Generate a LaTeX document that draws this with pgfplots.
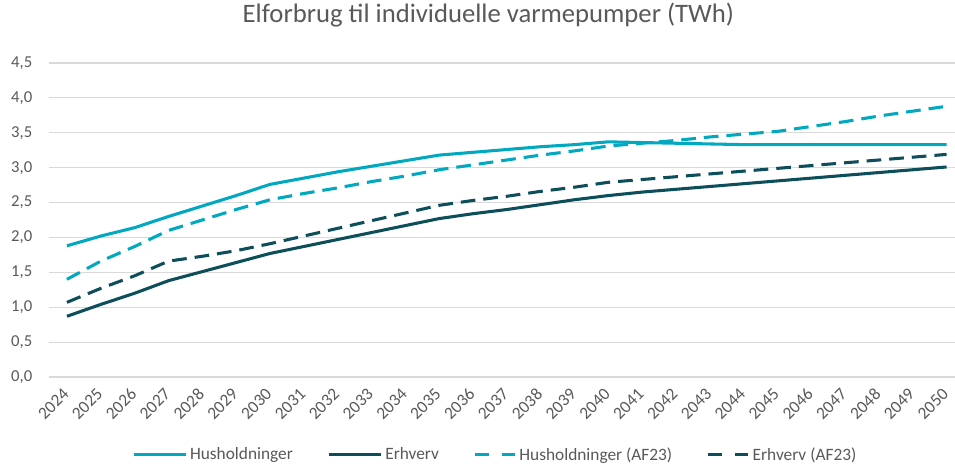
\documentclass[border=0pt]{standalone}
\usepackage{pgfplots}
\pgfplotsset{compat=1.18}
\usepackage{fontspec}
\setmainfont{Carlito}
\definecolor{husc}{HTML}{00A9BF}
\definecolor{erhc}{HTML}{0D4E5B}
\definecolor{txtc}{HTML}{595959}
\definecolor{gridc}{HTML}{D9D9D9}
\pgfplotsset{
    dashleg/.style={legend image code/.code={\draw[##1, dash pattern=on 10pt off 10pt] (0pt,0pt) -- (30pt,0pt);}},
}
\begin{document}
\begin{tikzpicture}
\path[use as bounding box] (-36.75pt,-65.25pt) rectangle (679.5pt,282.75pt);
\begin{axis}[
    at={(0,0)}, anchor=south west,
    scale only axis,
    width=679.5pt, height=235.5pt,
    xmin=2023.47, xmax=2050.25,
    ymin=0, ymax=4.5,
    ytick={0,0.5,...,4.5},
    xtick={2024,...,2050},
    xticklabel style={rotate=45, anchor=east, font=\fontsize{13}{14}\selectfont, text=txtc, inner sep=1pt},
    xticklabel shift=10pt,
    yticklabel style={font=\fontsize{12.5}{13}\selectfont, text=txtc, xshift=-9pt},
    /pgf/number format/assume math mode=true,
    x tick label style={/pgf/number format/1000 sep={}},
    y tick label style={/pgf/number format/.cd, use comma, fixed, fixed zerofill, precision=1},
    axis line style={draw=none},
    major tick length=0pt,
    ymajorgrids, grid style={gridc, line width=0.9pt},
    title={Elforbrug til individuelle varmepumper (TWh)},
    title style={font=\fontsize{20}{22}\selectfont, text=txtc, at={(0.485,1)}, yshift=30pt, anchor=center},
    legend columns=4,
    legend style={draw=none, at={(0.493,-0.248)}, anchor=center, font=\fontsize{13}{14}\selectfont, text=txtc,
        /tikz/every even column/.append style={column sep=24pt}},
    legend image code/.code={\draw[#1] (0pt,0pt) -- (39pt,0pt);},
    every axis plot/.append style={line width=2.3pt, line join=round},
]
\addplot[husc] coordinates {
(2024,1.88) (2025,2.02) (2026,2.14) (2027,2.30) (2028,2.45) (2029,2.60) (2030,2.76)
(2031,2.85) (2032,2.94) (2033,3.02) (2034,3.10) (2035,3.18) (2036,3.22) (2037,3.26)
(2038,3.30) (2039,3.33) (2040,3.37) (2041,3.36) (2042,3.35) (2043,3.34) (2044,3.33)
(2045,3.33) (2046,3.33) (2047,3.33) (2048,3.33) (2049,3.33) (2050,3.33)
};
\addplot[erhc] coordinates {
(2024,0.87) (2025,1.04) (2026,1.20) (2027,1.38) (2028,1.51) (2029,1.64) (2030,1.77)
(2031,1.87) (2032,1.97) (2033,2.07) (2034,2.17) (2035,2.27) (2036,2.34) (2037,2.40)
(2038,2.47) (2039,2.54) (2040,2.60) (2041,2.65) (2042,2.69) (2043,2.73) (2044,2.77)
(2045,2.81) (2046,2.85) (2047,2.89) (2048,2.93) (2049,2.97) (2050,3.01)
};
\addplot[husc, dash pattern=on 11pt off 6pt, dashleg] coordinates {
(2024,1.40) (2025,1.66) (2026,1.87) (2027,2.10) (2028,2.25) (2029,2.40) (2030,2.54)
(2031,2.63) (2032,2.71) (2033,2.80) (2034,2.88) (2035,2.97) (2036,3.04) (2037,3.11)
(2038,3.18) (2039,3.24) (2040,3.31) (2041,3.35) (2042,3.39) (2043,3.44) (2044,3.48)
(2045,3.52) (2046,3.59) (2047,3.66) (2048,3.74) (2049,3.81) (2050,3.88)
};
\addplot[erhc, dash pattern=on 11pt off 6pt, dashleg] coordinates {
(2024,1.07) (2025,1.27) (2026,1.45) (2027,1.66) (2028,1.73) (2029,1.81) (2030,1.91)
(2031,2.02) (2032,2.13) (2033,2.24) (2034,2.35) (2035,2.46) (2036,2.53) (2037,2.59)
(2038,2.66) (2039,2.72) (2040,2.79) (2041,2.83) (2042,2.87) (2043,2.91) (2044,2.95)
(2045,2.99) (2046,3.03) (2047,3.07) (2048,3.11) (2049,3.15) (2050,3.19)
};
\legend{Husholdninger, Erhverv, Husholdninger (AF23), Erhverv (AF23)}
\end{axis}
\end{tikzpicture}
\end{document}
